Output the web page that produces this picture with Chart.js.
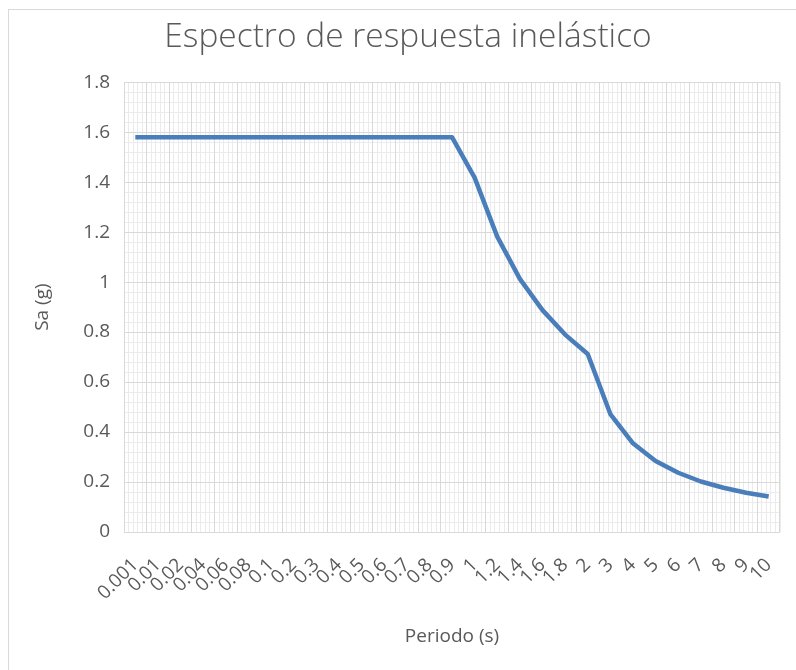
<!DOCTYPE html>
<html>
<head>
<meta charset="utf-8">
<script src="https://cdn.jsdelivr.net/npm/chart.js@4.4.1/dist/chart.umd.min.js"></script>
<style>
  html, body { margin: 0; padding: 0; background: #ffffff; }
  #wrap { position: relative; width: 796px; height: 670px; overflow: hidden; }
  #frame { position: absolute; left: 8px; top: 9px; width: 900px; height: 800px;
           border-left: 1px solid #d9d9d9; border-top: 1px solid #d9d9d9; }
  canvas { position: absolute; left: 0; top: 0; }
</style>
</head>
<body>
<div id="wrap">
  <div id="frame"></div>
  <canvas id="c" width="796" height="670"></canvas>
</div>
<script>
const periods = ['0.001','0.01','0.02','0.04','0.06','0.08','0.1','0.2','0.3','0.4','0.5','0.6','0.7','0.8','0.9','1','1.2','1.4','1.6','1.8','2','3','4','5','6','7','8','9','10'];
const saValues = [1.58,1.58,1.58,1.58,1.58,1.58,1.58,1.58,1.58,1.58,1.58,1.58,1.58,1.58,1.58,
                  1.418,1.182,1.013,0.888,0.79,0.712,0.472,0.355,0.284,0.237,0.202,0.177,0.157,0.142];
const yTicks = { min: 0, max: 1.8, step: 0.2, minorStep: 0.04 };
const chartTitle = 'Espectro de respuesta inelástico';
const xTitle = 'Periodo (s)';
const yTitle = 'Sa (g)';

const FONT = "'Open Sans', 'DejaVu Sans', sans-serif";
const TXT = '#595959';
const MAJOR = '#d9d9d9';
const MINOR = '#ebebeb';

new Chart(document.getElementById('c'), {
  type: 'line',
  data: {
    labels: periods,
    datasets: [{
      data: saValues,
      borderColor: '#4a7ebb',
      backgroundColor: '#4a7ebb',
      borderWidth: 4.5,
      pointRadius: 0,
      tension: 0,
      borderJoinStyle: 'round',
      xAxisID: 'x',
      yAxisID: 'y'
    }]
  },
  options: {
    responsive: false,
    animation: false,
    events: [],
    layout: { padding: { left: 20, right: 0, top: 0, bottom: 0 } },
    plugins: {
      legend: { display: false },
      tooltip: { enabled: false },
      title: {
        display: true,
        text: chartTitle,
        color: TXT,
        font: { family: FONT, size: 33.5, weight: '300', lineHeight: 1.2 },
        padding: { top: 17, bottom: 25 }
      }
    },
    scales: {
      xMinor: {
        type: 'linear', position: 'bottom', z: -1,
        min: 0, max: periods.length,
        ticks: { display: false, stepSize: 0.2 },
        grid: { color: MINOR, lineWidth: 1, drawTicks: false },
        border: { display: false },
        afterFit: (s) => { s.height = 0; s.paddingLeft = 0; s.paddingRight = 0; }
      },
      yMinor: {
        type: 'linear', position: 'left', z: -1,
        min: yTicks.min, max: yTicks.max,
        ticks: { display: false, stepSize: yTicks.minorStep },
        grid: { color: MINOR, lineWidth: 1, drawTicks: false },
        border: { display: false },
        afterFit: (s) => { s.width = 0; s.paddingTop = 0; s.paddingBottom = 0; }
      },
      x: {
        type: 'category', position: 'bottom',
        offset: true,
        grid: { offset: true, color: MAJOR, lineWidth: 1, drawTicks: false },
        border: { display: false },
        ticks: {
          autoSkip: false, minRotation: 45, maxRotation: 45,
          color: TXT, padding: 22,
          font: { family: FONT, size: 19 }
        },
        title: {
          display: true, text: xTitle, color: TXT,
          font: { family: FONT, size: 19, lineHeight: 1.2 },
          padding: { top: 0, bottom: 22 }
        },
        afterFit: (s) => { s.height = 138; s.paddingLeft = 0; s.paddingRight = 16; }
      },
      y: {
        type: 'linear', position: 'left',
        min: yTicks.min, max: yTicks.max,
        grid: { color: MAJOR, lineWidth: 1, drawTicks: false },
        border: { display: false },
        ticks: {
          stepSize: yTicks.step, color: TXT, padding: 14,
          font: { family: FONT, size: 19 },
          callback: (v) => String(+Number(v).toFixed(2))
        },
        title: {
          display: true, text: yTitle, color: TXT,
          font: { family: FONT, size: 19, lineHeight: 1.2 },
          padding: { top: 11, bottom: 0 }
        },
        afterFit: (s) => { s.width = 104; }
      }
    }
  }
});
</script>
</body>
</html>
